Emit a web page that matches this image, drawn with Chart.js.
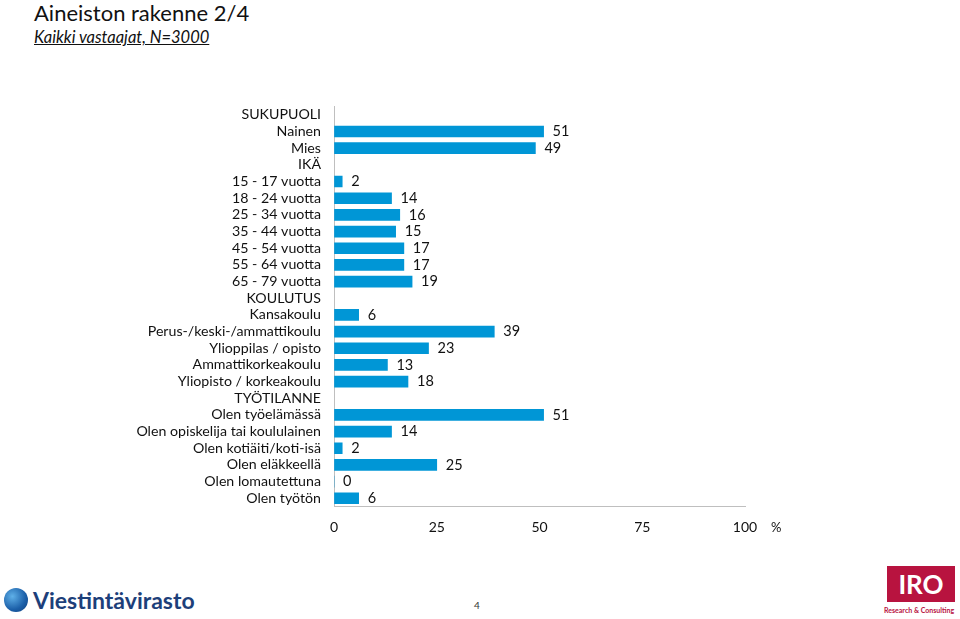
<!DOCTYPE html>
<html>
<head>
<meta charset="utf-8">
<script src="https://cdn.jsdelivr.net/npm/chart.js"></script>
<style>
  body { margin: 0; width: 960px; height: 619px; position: relative; background: #fff; font-family: Lato, "Open Sans", sans-serif; overflow: hidden; }
  .title { position: absolute; left: 34px; top: -1px; font-size: 22px; color: #111; }
  .subtitle { position: absolute; left: 34px; top: 27px; font-size: 16.5px; font-style: italic; text-decoration: underline; color: #111; }
  .chartbox { position: absolute; left: 0; top: 85px; width: 800px; height: 460px; }
  .pct { position: absolute; left: 771px; top: 519px; font-size: 13px; color: #111; }
  .page { position: absolute; left: 474px; top: 599px; font-size: 10px; color: #333; }
  .vlogo { position: absolute; left: 4px; top: 586px; height: 28px; display: flex; align-items: center; }
  .globe { width: 24px; height: 24px; border-radius: 50%; background: radial-gradient(circle at 35% 35%, #5fb0e8, #1b5fa8 60%, #123e7a); margin-right: 5px; }
  .vtext { font-size: 23px; font-weight: bold; color: #1d3f7a; }
  .iro { position: absolute; left: 887px; top: 566px; width: 68px; height: 36px; background: #b8133f; color: #fff; font-size: 26px; font-weight: bold; text-align: center; line-height: 36px; }
  .iro-sub { position: absolute; left: 884px; top: 606px; font-size: 7px; color: #b8133f; font-weight: bold; }
</style>
</head>
<body>
<div class="title">Aineiston rakenne 2/4</div>
<div class="subtitle">Kaikki vastaajat, N=3000</div>
<div class="chartbox"><canvas id="myChart" width="800" height="460"></canvas></div>
<div class="pct">%</div>
<div class="page">4</div>
<div class="vlogo"><div class="globe"></div><div class="vtext">Viestintävirasto</div></div>
<div class="iro">IRO</div>
<div class="iro-sub">Research &amp; Consulting</div>
<script>
// categories and shares (%), header rows have no value
const categories = [
  'SUKUPUOLI', 'Nainen', 'Mies',
  'IKÄ', '15 - 17 vuotta', '18 - 24 vuotta', '25 - 34 vuotta', '35 - 44 vuotta',
  '45 - 54 vuotta', '55 - 64 vuotta', '65 - 79 vuotta',
  'KOULUTUS', 'Kansakoulu', 'Perus-/keski-/ammattikoulu', 'Ylioppilas / opisto',
  'Ammattikorkeakoulu', 'Yliopisto / korkeakoulu',
  'TYÖTILANNE', 'Olen työelämässä', 'Olen opiskelija tai koululainen',
  'Olen kotiäiti/koti-isä', 'Olen eläkkeellä', 'Olen lomautettuna', 'Olen työtön'
];
const values = [
  null, 51, 49,
  null, 2, 14, 16, 15, 17, 17, 19,
  null, 6, 39, 23, 13, 18,
  null, 51, 14, 2, 25, 0, 6
];
const xTicks = [0, 25, 50, 75, 100];

const valueLabels = {
  id: 'valueLabels',
  afterDatasetsDraw(chart) {
    const ctx = chart.ctx;
    const meta = chart.getDatasetMeta(0);
    ctx.save();
    ctx.font = '14.5px Lato, "Open Sans", sans-serif';
    ctx.fillStyle = '#111';
    ctx.textBaseline = 'middle';
    meta.data.forEach((bar, i) => {
      const v = values[i];
      if (v === null) return;
      ctx.fillText(String(v), bar.x + 9, bar.y);
    });
    ctx.restore();
  }
};

new Chart(document.getElementById('myChart').getContext('2d'), {
  type: 'bar',
  data: {
    labels: categories,
    datasets: [{
      data: values,
      backgroundColor: '#0096d6',
      borderWidth: 0,
      barThickness: 11
    }]
  },
  options: {
    indexAxis: 'y',
    responsive: false,
    maintainAspectRatio: false,
    animation: false,
    layout: { padding: { top: 8.6, right: 55, left: 0, bottom: 0 } },
    plugins: { legend: { display: false }, tooltip: { enabled: false } },
    scales: {
      x: {
        min: 0, max: 100,
        afterBuildTicks(axis) { axis.ticks = xTicks.map(v => ({ value: v })); },
        afterFit(axis) { axis.height = 38.4; },
        grid: { color: 'transparent', drawTicks: false },
        border: { color: '#bfbfbf', width: 1 },
        ticks: { padding: 12, color: '#111', font: { family: 'Lato', size: 14 } }
      },
      y: {
        afterFit(axis) { axis.width = 334; },
        grid: { color: 'transparent', drawTicks: false },
        border: { color: '#bfbfbf', width: 1 },
        ticks: { padding: 13, color: '#111', autoSkip: false, font: { family: 'Lato', size: 14.2 } }
      }
    }
  },
  plugins: [valueLabels]
});
</script>
</body>
</html>
